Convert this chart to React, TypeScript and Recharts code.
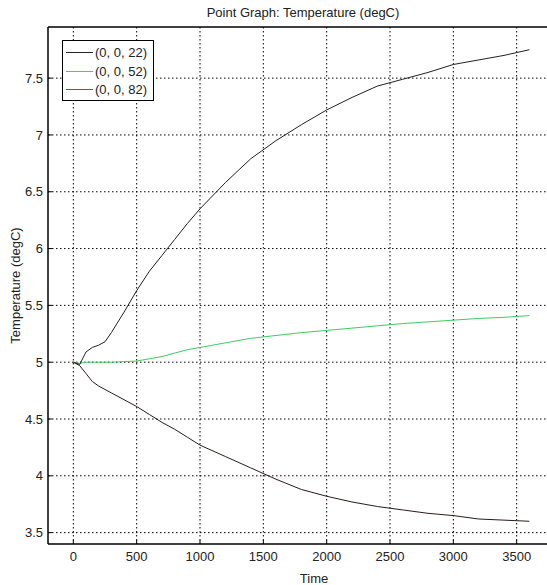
import React from 'react';
import { LineChart, Line, XAxis, YAxis, CartesianGrid, ReferenceLine } from 'recharts';

const time = [0, 50, 100, 150, 200, 250, 300, 400, 500, 600, 700, 800, 900, 1000, 1200, 1400, 1600, 1800, 2000, 2200, 2400, 2600, 2800, 3000, 3200, 3400, 3600];

const temp22 = [5.0, 4.98, 5.09, 5.13, 5.15, 5.18, 5.26, 5.44, 5.63, 5.8, 5.94, 6.08, 6.22, 6.35, 6.58, 6.79, 6.95, 7.09, 7.22, 7.33, 7.43, 7.49, 7.55, 7.62, 7.66, 7.7, 7.75];
const temp52 = [5.0, 4.99, 5.0, 5.0, 5.0, 5.0, 5.0, 5.005, 5.01, 5.03, 5.05, 5.08, 5.11, 5.13, 5.17, 5.21, 5.235, 5.26, 5.28, 5.3, 5.32, 5.34, 5.355, 5.37, 5.385, 5.395, 5.41];
const temp82 = [5.0, 4.97, 4.9, 4.83, 4.79, 4.76, 4.73, 4.67, 4.61, 4.54, 4.47, 4.41, 4.34, 4.27, 4.17, 4.07, 3.97, 3.88, 3.82, 3.77, 3.73, 3.7, 3.67, 3.65, 3.62, 3.61, 3.6];

const xTicks = [0, 500, 1000, 1500, 2000, 2500, 3000, 3500];
const yTicks = [3.5, 4, 4.5, 5, 5.5, 6, 6.5, 7, 7.5];

const seriesNames = ['(0, 0, 22)', '(0, 0, 52)', '(0, 0, 82)'];
const lineColors = ['#222222', '#3fcc62', '#2a1c1c'];
const legendColors = ['#222222', '#55c57a', '#b03a50'];

const rows = time.map((t, i) => ({ t, a: temp22[i], b: temp52[i], c: temp82[i] }));

const font = 'Arial, "Liberation Sans", sans-serif';
const tickStyle = { fontSize: 13, fill: '#222', fontFamily: font };

// legend box drawn over the plot, like the original figure
const LegendBox = () => (
  <div style={{ position: 'absolute', left: 62, top: 40, border: '1px solid #000', background: '#fff', width: 92, height: 61, boxSizing: 'border-box', fontFamily: font, fontSize: 13, color: '#222' }}>
    {seriesNames.map((name, i) => (
      <div key={name} style={{ position: 'absolute', left: 3, top: 3 + i * 18.5, height: 17, display: 'flex', alignItems: 'center', whiteSpace: 'nowrap' }}>
        <span style={{ display: 'inline-block', width: 27, height: 0, borderTop: `1.5px solid ${legendColors[i]}`, marginRight: 2 }} />
        <span>{name}</span>
      </div>
    ))}
  </div>
);

export default function App() {
  return (
    <div style={{ position: 'absolute', left: 0, top: 0, width: 547, height: 585, overflow: 'hidden', background: '#fff' }}>
      <div style={{ position: 'absolute', left: 303, top: 5, transform: 'translateX(-50%)', whiteSpace: 'nowrap', fontFamily: font, fontSize: 13, color: '#222' }}>
        Point Graph: Temperature (degC)
      </div>
      <LineChart width={600} height={585} data={rows} margin={{ top: 27, right: 20, left: 0, bottom: 0 }}>
        <CartesianGrid stroke="#000" strokeDasharray="1.5 2.5" horizontalValues={yTicks} verticalValues={xTicks} />
        <XAxis
          dataKey="t"
          type="number"
          domain={[-200, 4000]}
          ticks={xTicks}
          allowDataOverflow
          height={41}
          tick={tickStyle}
          tickSize={-4}
          tickMargin={12}
          tickLine={{ stroke: '#000' }}
          axisLine={{ stroke: '#000', strokeWidth: 1.5 }}
          label={{ value: 'Time', position: 'insideBottom', offset: 2, style: { fontSize: 13, fill: '#222', fontFamily: font } }}
        />
        <YAxis
          type="number"
          domain={[3.4, 7.95]}
          ticks={yTicks}
          allowDataOverflow
          width={48}
          tick={tickStyle}
          tickSize={-4}
          tickMargin={9}
          tickLine={{ stroke: '#000' }}
          axisLine={{ stroke: '#000', strokeWidth: 1.5 }}
          label={{ value: 'Temperature (degC)', angle: -90, position: 'insideLeft', offset: 15, style: { fontSize: 13, fill: '#222', fontFamily: font, textAnchor: 'middle' } }}
        />
        <ReferenceLine y={7.95} stroke="#000" strokeWidth={1.5} />
        <Line dataKey="c" name={seriesNames[2]} stroke={lineColors[2]} strokeWidth={1} dot={false} isAnimationActive={false} />
        <Line dataKey="b" name={seriesNames[1]} stroke={lineColors[1]} strokeWidth={1} dot={false} isAnimationActive={false} />
        <Line dataKey="a" name={seriesNames[0]} stroke={lineColors[0]} strokeWidth={1} dot={false} isAnimationActive={false} />
      </LineChart>
      <LegendBox />
    </div>
  );
}
